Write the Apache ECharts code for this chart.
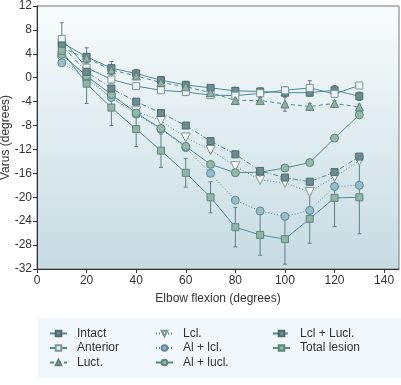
<!DOCTYPE html>
<html><head><meta charset="utf-8">
<script src="https://cdn.jsdelivr.net/npm/echarts@6/dist/echarts.min.js"></script>
<style>html,body{margin:0;padding:0;background:#fff}#c{width:401px;height:385px}</style>
</head><body><div id="c"></div>
<script>
const flexion = [10,20,30,40,50,60,70,80,90,100,110,120,130];
const intact   = [5.9, 3.5, 1.6, 0.7, -0.4, -1.2, -1.7, -2.2, -2.3, -2.5, -2.5, -2.1, -3.1];
const anterior = [6.5, 1.7, -0.3, -1.4, -2.1, -2.4, -2.9, -3.0, -2.6, -2.1, -1.7, -2.7, -1.3];
const luct     = [5.0, 3.3, 1.3, 0.3, -0.8, -1.5, -2.5, -3.8, -3.8, -4.4, -4.8, -4.3, -4.9];
const lcl      = [2.9, 0.3, -3.5, -5.6, -7.2, -10.0, -12.1, -14.8, -17.1, -17.6, -19.1, -16.6, -13.9];
const alLcl    = [2.5, -0.2, -3.3, -6.1, -8.6, -11.7, -16.0, -20.5, -22.3, -23.2, -22.2, -18.2, -18.0];
const alLucl   = [3.9, 0.3, -2.8, -5.9, -8.5, -11.5, -14.5, -15.9, -15.8, -15.1, -14.2, -10.1, -6.2];
const lclLucl  = [5.4, 1.0, -1.8, -4.0, -5.9, -8.0, -10.6, -12.8, -15.6, -16.7, -17.4, -15.8, -13.2];
const total    = [4.5, -1.0, -5.0, -8.6, -12.2, -15.9, -20.0, -25.0, -26.3, -27.0, -23.6, -20.1, -20.0];
const intactSD   = [0.8, 1.5, 1.1, 0.7, 0.6, 0.6, 0.5, 0.6, 0.6, 0.7, 0.6, 0.8, 0.7];
const anteriorSD = [2.7, 0.8, 0.6, 0.5, 0.5, 0.5, 0.5, 0.5, 0.6, 0.6, 1.2, 0.6, 0.4];
const luctSD     = [0.6, 0.6, 0.6, 0.6, 0.5, 0.5, 0.5, 0.5, 0.5, 1.2, 0.5, 0.5, 0.5];
const totalSD    = [1.5, 3.3, 3.0, 2.9, 2.8, 2.4, 2.6, 3.3, 3.4, 4.2, 4.1, 4.8, 6.1];
const yTicks = {min: -32, max: 12, step: 4};
const xTicks = {min: 0, max: 146, step: 20};

const LINE = '#4f8b99';
function pts(v){ return flexion.map((x,i)=>[x, v[i]]); }
function errData(v, sd){ return flexion.map((x,i)=>[x, v[i]-sd[i], v[i]+sd[i]]); }
function errSeries(v, sd){
  return {type:'custom', silent:true, z:1, data: errData(v, sd),
    renderItem: function(params, api){
      const lo = api.coord([api.value(0), api.value(1)]);
      const hi = api.coord([api.value(0), api.value(2)]);
      const c = '#5d7f88', w = 2;
      return {type:'group', children:[
        {type:'line', shape:{x1:lo[0],y1:lo[1],x2:hi[0],y2:hi[1]}, style:{stroke:c,lineWidth:1}},
        {type:'line', shape:{x1:lo[0]-w,y1:lo[1],x2:lo[0]+w,y2:lo[1]}, style:{stroke:c,lineWidth:1}},
        {type:'line', shape:{x1:hi[0]-w,y1:hi[1],x2:hi[0]+w,y2:hi[1]}, style:{stroke:c,lineWidth:1}}
      ]};
    }};
}
function lineS(name, v, symbol, fill, border, dash, size){
  return {name, type:'line', data: pts(v), symbol, symbolSize: size||7, z:3,
    lineStyle:{color:LINE, width:1, type:dash},
    itemStyle:{color:fill, borderColor:border, borderWidth:1},
    emphasis:{disabled:true}};
}
const chart = echarts.init(document.getElementById('c'), null, {renderer:'canvas'});
const legText = {fontFamily:'Liberation Sans, Arial, sans-serif', fontSize:12, color:'#333', lineHeight:13, padding:[0,0,0,5]};
function leg(left, names){
  return {orient:'vertical', left, top:327, height:60, padding:0, itemWidth:17, itemHeight:7, itemGap:1.5,
    textStyle:legText, data:names};
}
chart.setOption({
  animation:false,
  textStyle:{fontFamily:'Liberation Sans, Arial, sans-serif'},
  graphic:[{type:'rect', shape:{x:38,y:318,width:363,height:60}, style:{fill:'#f1f7fa'}, z:-1}],
  grid:{left:37, right:2, top:6, bottom:116, containLabel:false, outerBoundsMode:'none', show:true, borderColor:'#777', borderWidth:1,
    backgroundColor:new echarts.graphic.LinearGradient(0,0,0,1,[{offset:0,color:'#f9fcfd'},{offset:1,color:'#c6dbe2'}])},
  xAxis:{type:'value', min:xTicks.min, max:xTicks.max, interval:xTicks.step,
    name:'Elbow flexion (degrees)', nameLocation:'middle', nameGap:24, nameMoveOverlap:false,
    nameTextStyle:{fontSize:12, color:'#333'},
    axisLine:{show:true, onZero:false, lineStyle:{color:'#333'}},
    axisTick:{show:true, length:4, lineStyle:{color:'#333'}},
    axisLabel:{fontSize:12, color:'#333', margin:6, showMaxLabel:false},
    splitLine:{show:false}},
  yAxis:{type:'value', min:yTicks.min, max:yTicks.max, interval:yTicks.step,
    name:'Varus (degrees)', nameLocation:'middle', nameGap:25, nameMoveOverlap:false,
    nameTextStyle:{fontSize:12, color:'#333'},
    axisLine:{show:true, lineStyle:{color:'#333'}},
    axisTick:{show:true, length:4, lineStyle:{color:'#333'}},
    axisLabel:{fontSize:12, color:'#333', margin:5},
    splitLine:{show:false}},
  legend:[
    leg(49, ['Intact','Anterior','Luct.']),
    leg(155, ['Lcl.','Al + lcl.','Al + lucl.']),
    leg(272, ['Lcl + Lucl.','Total lesion'])
  ],
  series:[
    errSeries(total, totalSD),
    errSeries(intact, intactSD),
    errSeries(anterior, anteriorSD),
    errSeries(luct, luctSD),
    lineS('Intact', intact, 'rect', '#6d8c92', '#4e6a70', 'solid'),
    lineS('Anterior', anterior, 'rect', '#eef4f6', '#7f959b', 'solid'),
    lineS('Luct.', luct, 'triangle', '#8fb1a6', '#627f78', [4,3], 8),
    lineS('Lcl.', lcl, 'path://M0,0 L10,0 L5,9 Z', '#ffffff', '#7f959b', [1,2], 9),
    lineS('Al + lcl.', alLcl, 'circle', '#94bccd', '#5f8796', [1,2], 8),
    lineS('Al + lucl.', alLucl, 'circle', '#93b9aa', '#5f8579', 'solid', 8),
    lineS('Lcl + Lucl.', lclLucl, 'rect', '#6d8c92', '#4e6a70', [5,2,1,2]),
    lineS('Total lesion', total, 'rect', '#92b5a9', '#5f8579', 'solid')
  ]
});
</script></body></html>
